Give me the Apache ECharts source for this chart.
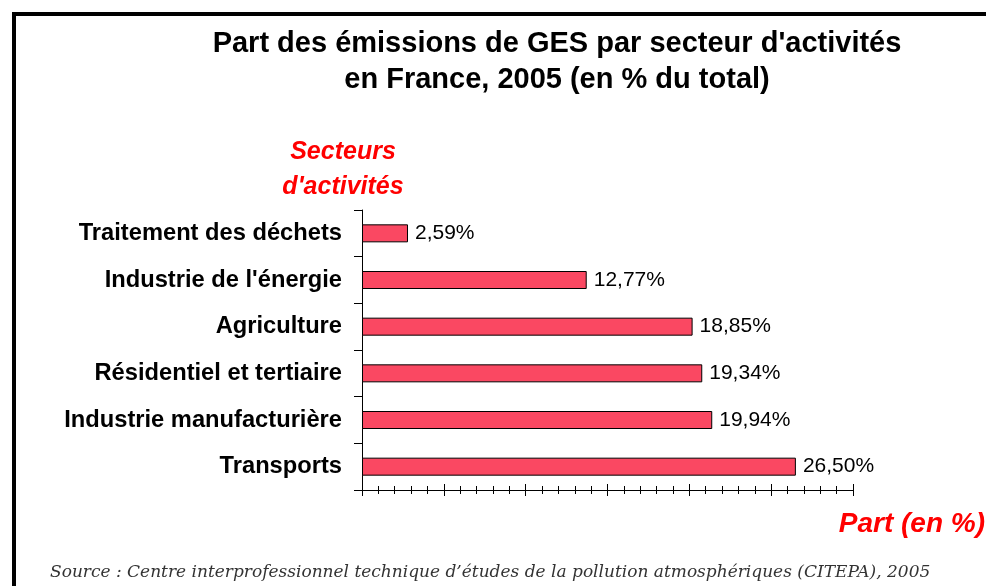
<!DOCTYPE html>
<html>
<head>
    <meta charset="utf-8">
    <title>Part des émissions de GES</title>
    <style type="text/css">
        html, body { margin: 0; padding: 0; background: #fff; }
        #main { width: 986px; height: 586px; }
    </style>
</head>
<body>
    <div id="main"></div>
</body>
<script src="https://cdn.jsdelivr.net/npm/echarts@6/dist/echarts.min.js"></script>
<script type="text/javascript">
    // secteurs, du haut vers le bas
    var secteurs = ['Traitement des déchets', 'Industrie de l\'énergie', 'Agriculture',
        'Résidentiel et tertiaire', 'Industrie manufacturière', 'Transports'];
    var longueurs = [2.81, 13.73, 20.2, 20.79, 21.4, 26.51];
    // valeurs affichées
    var etiquettes = ['2,59%', '12,77%', '18,85%', '19,34%', '19,94%', '26,50%'];

    var rouge = '#ff0000';

    // axe horizontal : plusieurs copies superposées pour des graduations qui croisent la ligne
    function axeX(interval, inside, len, minor) {
        return {
            type: 'value',
            position: 'bottom',
            min: 0,
            max: 30,
            interval: interval,
            axisLine: { show: true, onZero: false, lineStyle: { color: '#000', width: 1 } },
            axisTick: { show: true, inside: inside, length: len, lineStyle: { color: '#000', width: 1 } },
            minorTick: { show: minor, splitNumber: 5, length: 4, lineStyle: { color: '#000', width: 1 } },
            axisLabel: { show: false },
            splitLine: { show: false },
            minorSplitLine: { show: false }
        };
    }

    var option = {
        backgroundColor: '#fff',
        animation: false,
        title: {
            text: 'Part des émissions de GES par secteur d\'activités\nen France, 2005 (en % du total)',
            left: 552,
            top: 21,
            textAlign: 'center',
            textStyle: {
                fontFamily: 'Liberation Sans',
                fontWeight: 'bold',
                fontSize: 29,
                lineHeight: 36,
                color: '#000'
            }
        },
        grid: { left: 362, right: 133, top: 210, bottom: 96, containLabel: false },
        xAxis: [axeX(5, false, 6, true), axeX(1, true, 4, false), axeX(5, true, 6, false)],
        yAxis: {
            type: 'category',
            data: secteurs,
            inverse: true,
            axisLine: { show: true, lineStyle: { color: '#000', width: 1 } },
            axisTick: { show: true, length: 8, lineStyle: { color: '#000', width: 1 } },
            axisLabel: {
                margin: 20,
                fontFamily: 'Liberation Sans',
                fontWeight: 'bold',
                fontSize: 23.7,
                color: '#000'
            },
            splitLine: { show: false }
        },
        series: [{
            type: 'bar',
            xAxisIndex: 0,
            barWidth: 18,
            data: longueurs,
            itemStyle: { color: '#fa4862', borderColor: '#000', borderWidth: 1 },
            label: {
                show: true,
                position: 'right',
                distance: 7,
                fontFamily: 'Liberation Sans',
                fontSize: 21,
                color: '#000',
                formatter: function (p) { return etiquettes[p.dataIndex]; }
            }
        }],
        graphic: [
            // cadre
            { type: 'rect', shape: { x: 12, y: 12, width: 974, height: 4 }, style: { fill: '#000' } },
            { type: 'rect', shape: { x: 12, y: 12, width: 4, height: 574 }, style: { fill: '#000' } },
            {
                type: 'text', x: 343, y: 170,
                style: {
                    text: 'Secteurs\nd\'activités', fill: rouge, align: 'center', verticalAlign: 'middle',
                    font: 'italic bold 25px "Liberation Sans"', lineHeight: 35
                }
            },
            {
                type: 'text', x: 985, y: 524,
                style: {
                    text: 'Part (en %)', fill: rouge, align: 'right', verticalAlign: 'middle',
                    font: 'italic bold 28px "Liberation Sans"'
                }
            },
            {
                type: 'text', x: 50, y: 573,
                style: {
                    text: 'Source : Centre interprofessionnel technique d\u2019études de la pollution atmosphériques (CITEPA), 2005',
                    fill: '#333', align: 'left', verticalAlign: 'middle',
                    font: 'italic 17px "DejaVu Serif"'
                }
            }
        ]
    };

    var myChart = echarts.init(document.getElementById('main'));
    myChart.setOption(option);
</script>
</html>
